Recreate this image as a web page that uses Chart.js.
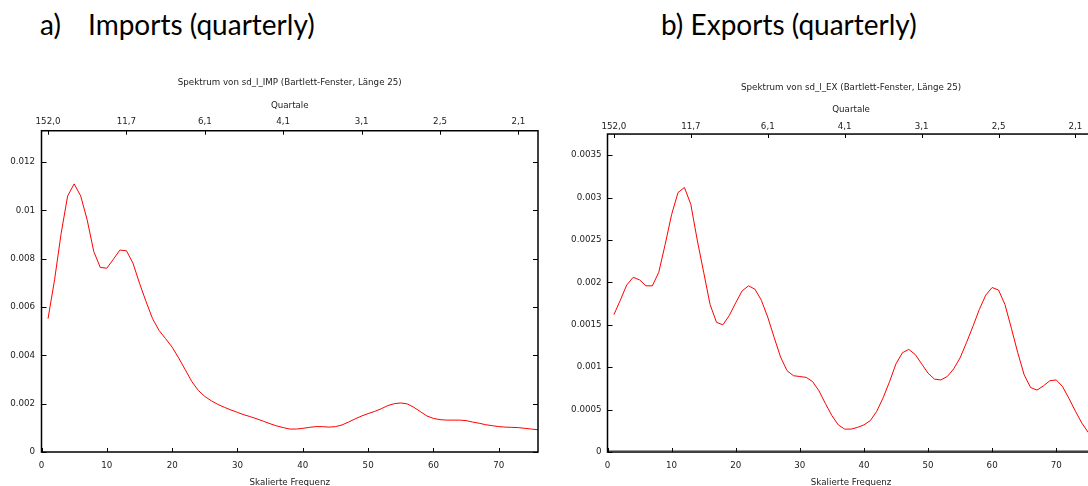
<!DOCTYPE html>
<html>
<head>
<meta charset="utf-8">
<script src="https://cdn.jsdelivr.net/npm/chart.js@4.4.0/dist/chart.umd.min.js"></script>
<style>
  html, body { margin: 0; padding: 0; background: #fff; width: 1088px; height: 486px; overflow: hidden; }
  .head { position: absolute; top: 10px; font-family: Lato, sans-serif; font-size: 28px; line-height: 28px; color: #000; white-space: pre; }
  .box { position: absolute; top: 60px; width: 560px; height: 430px; }
</style>
</head>
<body>
<div class="head" style="left:40px">a)</div>
<div class="head" style="left:88px">Imports (quarterly)</div>
<div class="head" style="left:661px">b) Exports (quarterly)</div>
<div class="box" style="left:0"><canvas id="imp" width="560" height="430"></canvas></div>
<div class="box" style="left:560px"><canvas id="exp" width="560" height="430"></canvas></div>
<script>
// skalierte Frequenz 1..76
const freq = [1, 2, 3, 4, 5, 6, 7, 8, 9, 10, 11, 12, 13, 14, 15, 16, 17, 18, 19, 20,
  21, 22, 23, 24, 25, 26, 27, 28, 29, 30, 31, 32, 33, 34, 35, 36, 37, 38, 39, 40,
  41, 42, 43, 44, 45, 46, 47, 48, 49, 50, 51, 52, 53, 54, 55, 56, 57, 58, 59, 60,
  61, 62, 63, 64, 65, 66, 67, 68, 69, 70, 71, 72, 73, 74, 75, 76];

const impSpec = [0.00552, 0.00713, 0.00904, 0.0106, 0.0111, 0.0106, 0.0096, 0.0083, 0.00764, 0.00761,
  0.00798, 0.00836, 0.00833, 0.00782, 0.00699, 0.00623, 0.00552, 0.00503, 0.00469, 0.00434,
  0.00389, 0.00341, 0.00292, 0.00255, 0.0023, 0.00212, 0.00197, 0.00185, 0.00174, 0.00164,
  0.00154, 0.00146, 0.00137, 0.00127, 0.00117, 0.00108, 0.00101, 0.00095, 0.00095, 0.00098,
  0.00102, 0.00105, 0.00105, 0.00103, 0.00105, 0.00112, 0.00124, 0.00137, 0.00149, 0.00159,
  0.00168, 0.00179, 0.00192, 0.002, 0.00203, 0.00199, 0.00185, 0.00167, 0.00149, 0.00139,
  0.00134, 0.00132, 0.00132, 0.00132, 0.0013, 0.00124, 0.00119, 0.00113, 0.00109, 0.00105,
  0.00103, 0.00102, 0.00101, 0.00098, 0.00095, 0.00092];

const expSpec = [0.00162, 0.00179, 0.00197, 0.00206, 0.00203, 0.00196, 0.00196, 0.00212, 0.00245, 0.0028,
  0.00306, 0.00312, 0.00292, 0.0025, 0.00212, 0.00174, 0.00153, 0.0015, 0.00161, 0.00176,
  0.0019, 0.00196, 0.00192, 0.00179, 0.00159, 0.00135, 0.00112, 0.00096, 0.0009, 0.00089,
  0.00088, 0.00083, 0.00072, 0.00057, 0.00043, 0.00032, 0.00027, 0.00027, 0.00029, 0.00032,
  0.00037, 0.00048, 0.00064, 0.00083, 0.00104, 0.00117, 0.00121, 0.00115, 0.00104, 0.00093,
  0.00086, 0.00085, 0.00089, 0.00098, 0.00111, 0.00129, 0.00148, 0.00168, 0.00185, 0.00194,
  0.00191, 0.00174, 0.00146, 0.00117, 0.00091, 0.00076, 0.00073, 0.00078, 0.00084, 0.00085,
  0.00077, 0.00063, 0.00048, 0.00034, 0.00023, 0.00018];

const xTicks = [0, 10, 20, 30, 40, 50, 60, 70];
const quartalTicks = [1, 13, 25, 37, 49, 61, 73];
const quartalLabels = ['152,0', '11,7', '6,1', '4,1', '3,1', '2,5', '2,1'];
const impTicks = [0, 0.002, 0.004, 0.006, 0.008, 0.01, 0.012];
const expTicks = [0, 0.0005, 0.001, 0.0015, 0.002, 0.0025, 0.003, 0.0035];

const small = { family: 'DejaVu Sans', size: 8.7 };
const ink = '#222';

// gnuplot-style frame with inward ticks
const framePlugin = {
  id: 'frame',
  afterDatasetsDraw(chart, args, opts) {
    const { ctx, chartArea: a, scales } = chart;
    ctx.save();
    ctx.strokeStyle = '#000';
    ctx.lineWidth = 1;
    ctx.beginPath();
    scales.x.ticks.forEach(t => {
      const px = Math.round(scales.x.getPixelForValue(t.value)) + 0.5;
      ctx.moveTo(px, a.bottom); ctx.lineTo(px, a.bottom - 4);
    });
    scales.x2.ticks.forEach(t => {
      const px = Math.round(scales.x2.getPixelForValue(t.value)) + 0.5;
      ctx.moveTo(px, a.top); ctx.lineTo(px, a.top + 4);
    });
    scales.y.ticks.forEach(t => {
      const py = Math.round(scales.y.getPixelForValue(t.value)) + 0.5;
      ctx.moveTo(a.left, py); ctx.lineTo(a.left + 5, py);
      ctx.moveTo(a.right, py); ctx.lineTo(a.right - 5, py);
    });
    ctx.stroke();
    if (opts.zeroLine) {
      const y0 = Math.round(scales.y.getPixelForValue(0)) - 1.5;
      ctx.setLineDash([1, 1]);
      ctx.strokeStyle = '#333';
      ctx.beginPath();
      ctx.moveTo(a.left, y0); ctx.lineTo(a.right, y0);
      ctx.stroke();
      ctx.setLineDash([]);
      ctx.strokeStyle = '#000';
    }
    ctx.lineWidth = 1.5;
    ctx.strokeRect(a.left, a.top, a.right - a.left, a.bottom - a.top);
    ctx.restore();
  }
};

function makeChart(id, title, values, yTicks, yMax, g) {
  const pts = freq.map((f, i) => ({ x: f, y: values[i] }));
  return new Chart(document.getElementById(id), {
    type: 'line',
    data: { datasets: [{ data: pts, borderColor: '#ff0000', borderWidth: 1, pointRadius: 0, tension: 0, fill: false }] },
    plugins: [framePlugin],
    options: {
      responsive: false,
      animation: false,
      layout: { padding: { left: 0, right: g.padRight, top: 0, bottom: 0 } },
      plugins: {
        legend: { display: false },
        tooltip: { enabled: false },
        title: { display: true, text: title, fullSize: false, color: ink, font: { ...small, weight: 'normal' }, padding: { top: g.titleTop, bottom: 0 } },
        frame: { zeroLine: g.zeroLine }
      },
      scales: {
        x: {
          type: 'linear', position: 'bottom', min: 0, max: 76,
          grid: { display: false, drawTicks: false }, border: { display: false },
          afterBuildTicks: s => { s.ticks = xTicks.map(v => ({ value: v })); },
          afterFit: s => { s.height = 38; },
          ticks: { color: ink, font: small, padding: 8.8, autoSkip: false, maxRotation: 0 },
          title: { display: true, text: 'Skalierte Frequenz', color: ink, font: small, padding: { top: 0, bottom: 1.8 } }
        },
        x2: {
          type: 'linear', position: 'top', min: 0, max: 76,
          grid: { display: false, drawTicks: false }, border: { display: false },
          afterBuildTicks: s => { s.ticks = quartalTicks.map(v => ({ value: v })); },
          afterFit: s => { s.height = g.x2Height; },
          ticks: { color: ink, font: small, padding: g.x2Pad, autoSkip: false, maxRotation: 0,
            callback: (v, i) => quartalLabels[i] },
          title: { display: true, text: 'Quartale', color: ink, font: small, padding: { top: g.qTop, bottom: 0 } }
        },
        y: {
          type: 'linear', min: 0, max: yMax,
          grid: { display: false, drawTicks: false }, border: { display: false },
          afterBuildTicks: s => { s.ticks = yTicks.map(v => ({ value: v })); },
          afterFit: s => { s.width = g.yWidth; },
          ticks: { color: ink, font: small, padding: g.yPad, callback: v => String(v) }
        }
      }
    }
  });
}

makeChart('imp', 'Spektrum von sd_l_IMP (Bartlett-Fenster, Länge 25)', impSpec, impTicks, 0.0133,
  { padRight: 22, titleTop: 17.3, x2Height: 43.0, qTop: 12.6, x2Pad: 4.0, yWidth: 41.5, yPad: 6.5, zeroLine: false });
makeChart('exp', 'Spektrum von sd_l_EX (Bartlett-Fenster, Länge 25)', expSpec, expTicks, 0.00375,
  { padRight: 25.3, titleTop: 22.3, x2Height: 41.3, qTop: 11.6, x2Pad: 2.3, yWidth: 47.5, yPad: 6, zeroLine: true });
</script>
</body>
</html>
